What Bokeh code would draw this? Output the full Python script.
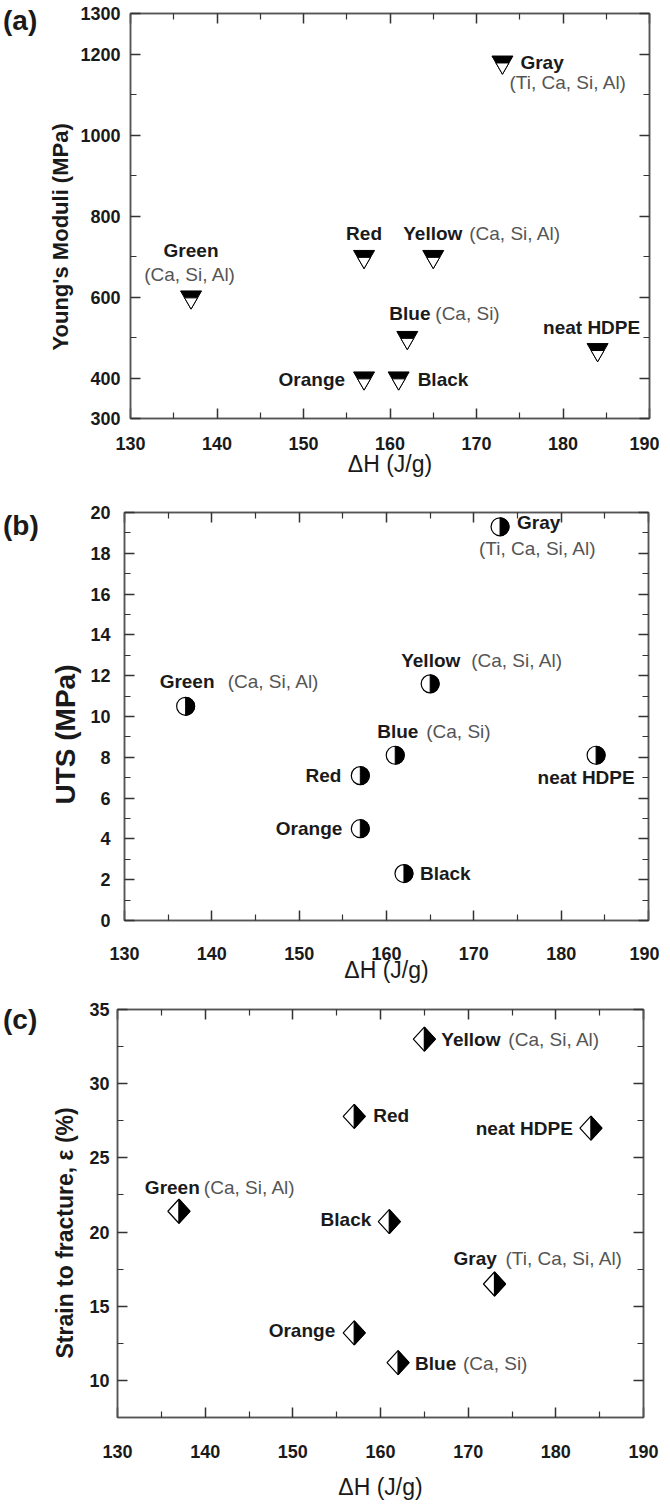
import math
from bokeh.plotting import figure
from bokeh.layouts import column, row
from bokeh.models import FixedTicker, LinearAxis, Range1d, Title, Div
from bokeh.core.properties import value
from bokeh.embed import file_html
from bokeh.resources import INLINE

# ---------------- data ----------------
samples = ["Gray", "Red", "Yellow", "Green", "Blue", "neat HDPE", "Orange", "Black"]
fillers = ["(Ti, Ca, Si, Al)", "", "(Ca, Si, Al)", "(Ca, Si, Al)", "(Ca, Si)", "", "", ""]

dh_a = [173, 157, 165, 137, 162, 184, 157, 161]
modulus = [1180, 700, 700, 600, 500, 470, 400, 400]

dh_b = [173, 157, 165, 137, 161, 184, 157, 162]
uts = [19.3, 7.1, 11.6, 10.5, 8.1, 8.1, 4.5, 2.3]

dh_c = [173, 157, 165, 137, 162, 184, 157, 161]
strain = [16.5, 27.8, 33.0, 21.4, 11.2, 27.0, 13.2, 20.7]

x_ticks = [130, 140, 150, 160, 170, 180, 190]
x_minor = [135, 145, 155, 165, 175, 185]
a_ticks = [300, 400, 600, 800, 1000, 1200, 1300]
a_minor = [500, 700, 900, 1100]
b_ticks = [0, 2, 4, 6, 8, 10, 12, 14, 16, 18, 20]
b_minor = [1, 3, 5, 7, 9, 11, 13, 15, 17, 19]
c_ticks = [10, 15, 20, 25, 30, 35]
c_minor = [12.5, 17.5, 22.5, 27.5, 32.5]

# ---------------- label placement (screen px offsets from the point) ----------------
lab_a = {
    "Gray": ((18, 0, "left"), (7, 20, "left")),
    "Red": ((0, -23, "center"), None),
    "Yellow": ((-30, -23, "left"), (36, -23, "left")),
    "Green": ((0, -47, "center"), (-1, -23, "center")),
    "Blue": ((-18, -24, "left"), (28, -24, "left")),
    "neat HDPE": ((-6, -22, "center"), None),
    "Orange": ((-19, 1, "right"), None),
    "Black": ((19, 1, "left"), None),
}
lab_b = {
    "Gray": ((17, -4, "left"), (-21, 22, "left")),
    "Red": ((-19, 0, "right"), None),
    "Yellow": ((-29, -23, "left"), (41, -23, "left")),
    "Green": ((-26, -25, "left"), (42, -25, "left")),
    "Blue": ((-18, -24, "left"), (31, -24, "left")),
    "neat HDPE": ((-10, 22, "center"), None),
    "Orange": ((-18, 0, "right"), None),
    "Black": ((16, 0, "left"), None),
}
lab_c = {
    "Gray": ((-41, -25, "left"), (11, -25, "left")),
    "Red": ((19, -1, "left"), None),
    "Yellow": ((17, 0, "left"), (84, 0, "left")),
    "Green": ((-34, -24, "left"), (25, -24, "left")),
    "Blue": ((17, 1, "left"), (65, 1, "left")),
    "neat HDPE": ((-18, 0, "right"), None),
    "Orange": ((-19, -2, "right"), None),
    "Black": ((-18, -2, "right"), None),
}

FONT = "Liberation Sans"
FRAME = "#555555"
TICK = "#333333"
TXT = "#1a1a1a"
COMP = "#555555"
TAG_W = 40
FIG_W = 654 - TAG_W


def style_axis(ax, ticks, minor, labels=True, standoff=10):
    ax.ticker = FixedTicker(ticks=ticks, minor_ticks=minor)
    ax.major_tick_in = 10
    ax.major_tick_out = 0
    ax.minor_tick_in = 6
    ax.minor_tick_out = 0
    ax.axis_line_color = FRAME
    ax.axis_line_width = 1.5
    ax.major_tick_line_color = TICK
    ax.minor_tick_line_color = TICK
    ax.major_tick_line_width = 1.5
    ax.minor_tick_line_width = 1.2
    ax.major_label_text_font = FONT
    ax.major_label_text_font_style = "bold"
    ax.major_label_text_font_size = "18px"
    ax.major_label_text_color = TXT
    ax.major_label_standoff = standoff
    if not labels:
        ax.major_label_overrides = {t: "" for t in ticks}
        ax.major_label_text_font_size = "0px"
        ax.major_label_standoff = 0


def make_panel(tag, tag_pad, xs, ys, yr, yt, ym, ylabel, ylabel_size, ylabel_offset,
               ylabel_standoff, lab, left, top, fw, fh, bottom,
               xl_standoff, xt_standoff, yl_standoff):
    p = figure(frame_width=fw, frame_height=fh,
               x_range=Range1d(130, 190), y_range=Range1d(*yr),
               min_border_left=left, min_border_right=FIG_W - left - fw,
               min_border_top=top, min_border_bottom=bottom,
               output_backend="svg", toolbar_location=None,
               background_fill_color="white", border_fill_color="white")
    p.grid.visible = False
    p.outline_line_color = FRAME
    p.outline_line_width = 1.5

    xa = p.xaxis[0]
    style_axis(xa, x_ticks, x_minor, True, xl_standoff)
    xa.axis_label = "ΔH (J/g)"
    xa.axis_label_text_font = FONT
    xa.axis_label_text_font_style = "normal"
    xa.axis_label_text_font_size = "23px"
    xa.axis_label_text_color = TXT
    xa.axis_label_standoff = xt_standoff

    ya = p.yaxis[0]
    style_axis(ya, yt, ym, True, yl_standoff)

    p.add_layout(Title(text=ylabel, align="left", offset=ylabel_offset,
                       vertical_align="bottom", standoff=ylabel_standoff,
                       text_font=FONT, text_font_style="bold",
                       text_font_size=ylabel_size, text_color=TXT), "left")

    ta = LinearAxis()
    style_axis(ta, x_ticks, x_minor, False)
    p.add_layout(ta, "above")
    ra = LinearAxis()
    style_axis(ra, yt, ym, False)
    p.add_layout(ra, "right")

    for name, comp, xv, yv in zip(samples, fillers, xs, ys):
        n, c = lab[name]
        p.text(x=[xv], y=[yv], text=[name], x_offset=n[0], y_offset=n[1],
               text_align=n[2], text_baseline="middle", text_font=value(FONT),
               text_font_style="bold", text_font_size="19px", text_color=TXT)
        if c is not None and comp:
            p.text(x=[xv], y=[yv], text=[comp], x_offset=c[0], y_offset=c[1],
                   text_align=c[2], text_baseline="middle", text_font=value(FONT),
                   text_font_style="normal", text_font_size="19px", text_color=COMP)

    fig_h = top + fh + bottom
    d = Div(text=('<div style="font-family:\'Liberation Sans\';font-weight:bold;'
                  'font-size:28px;line-height:30px;color:%s;padding:%dpx 0 0 3px;'
                  'white-space:nowrap;">%s</div>') % (TXT, tag_pad, tag),
            width=TAG_W, height=fig_h, margin=(0, 0, 0, 0))
    return p, row(d, p, spacing=0)


# ---------- (a) ----------
FW_A, FH_A = 519, 405
pa, ra_ = make_panel("(a)", 6, dh_a, modulus, (300, 1300), a_ticks, a_minor,
                     "Young's Moduli (MPa)", "22px", 68, 10, lab_a,
                     left=133 - 8 - TAG_W, top=13, fw=FW_A, fh=FH_A, bottom=81,
                     xl_standoff=18, xt_standoff=-2, yl_standoff=10)
py_a = FH_A / (1300 - 300)
tri_big, tri_small = 21, 13
shift = (tri_big - tri_small) / math.sqrt(3) / py_a
pa.scatter(dh_a, modulus, marker="inverted_triangle", size=tri_big,
           fill_color="black", line_color="black", line_width=1)
pa.scatter(dh_a, [m - shift for m in modulus], marker="inverted_triangle", size=tri_small,
           fill_color="white", line_color="black", line_width=1)

# ---------- (b) ----------
FW_B, FH_B = 524, 408
pb, rb_ = make_panel("(b)", 12, dh_b, uts, (0, 20), b_ticks, b_minor,
                     "UTS (MPa)", "28px", 116, 14, lab_b,
                     left=127 - 8 - TAG_W, top=13, fw=FW_B, fh=FH_B, bottom=76,
                     xl_standoff=26, xt_standoff=-6, yl_standoff=14)
pb.scatter(dh_b, uts, marker="circle", size=18, fill_color="white",
           line_color="black", line_width=1.2)
pb.wedge(dh_b, uts, radius=9, radius_units="screen", start_angle=-math.pi / 2,
         end_angle=math.pi / 2, fill_color="black", line_color="black")

# ---------- (c) ----------
FW_C, FH_C = 526, 408
pc, rc_ = make_panel("(c)", 9, dh_c, strain, (7.5, 35), c_ticks, c_minor,
                     "Strain to fracture, ε  (%)", "23px", 59, 18, lab_c,
                     left=120 - 8 - TAG_W, top=13, fw=FW_C, fh=FH_C, bottom=74,
                     xl_standoff=27, xt_standoff=13, yl_standoff=8)
px_c = FW_C / (190 - 130)
py_c = FH_C / (35 - 7.5)
dx, dy = 11 / px_c, 12 / py_c
pc.patches([[x - dx, x, x + dx, x] for x in dh_c],
           [[y, y + dy, y, y - dy] for y in strain],
           fill_color="white", line_color="black", line_width=1.2)
pc.patches([[x, x + dx, x] for x in dh_c],
           [[y - dy, y, y + dy] for y in strain],
           fill_color="black", line_color="black", line_width=1.2)

layout = column(ra_, rb_, rc_, spacing=0)
open("out.html", "w").write(file_html(layout, INLINE))
